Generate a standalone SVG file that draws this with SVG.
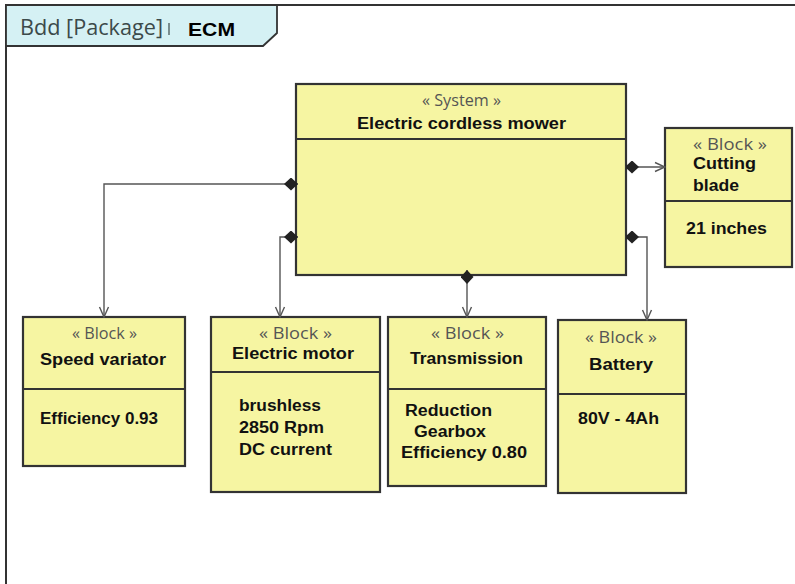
<svg xmlns="http://www.w3.org/2000/svg" width="795" height="584" viewBox="0 0 795 584">
<defs>
<style>
.box{fill:#f6f5a2;stroke:#333;stroke-width:2.2}
.div{stroke:#333;stroke-width:2}
.st{font-family:"Open Sans","Liberation Sans",sans-serif;font-size:16px;fill:#555}
.b{font-family:"Liberation Sans",Arial,sans-serif;font-weight:bold;font-size:16px;fill:#111}
.con{fill:none;stroke:#555;stroke-width:1.4}
</style>
<marker id="dia" viewBox="0 0 14 13" refX="0" refY="6.5" markerWidth="14" markerHeight="13" markerUnits="userSpaceOnUse" orient="auto">
<path d="M0,6.5 L7,0 L14,6.5 L7,13 Z" fill="#222"/>
</marker>
<marker id="arr" viewBox="0 0 12 12" refX="11" refY="6" markerWidth="12" markerHeight="12" markerUnits="userSpaceOnUse" orient="auto">
<path d="M1,1.5 L11,6 L1,10.5" fill="none" stroke="#555" stroke-width="1.4"/>
</marker>
</defs>
<rect width="795" height="584" fill="#fff"/>
<g id="frame">
<path d="M6,584 L6,5 L795,5" fill="none" stroke="#333" stroke-width="2"/>
<path d="M6,5 L277,5 L277,33 L263,46 L6,46 Z" fill="#d5f1f4" stroke="#333" stroke-width="1.8"/>
<text x="20" y="35" font-family="'Open Sans','Liberation Sans',sans-serif" font-size="21" fill="#3c4a4a" textLength="143" lengthAdjust="spacingAndGlyphs">Bdd [Package]</text>
<line x1="169" y1="23" x2="169" y2="35" stroke="#3c4a4a" stroke-width="1.2"/>
<text x="188" y="36" font-family="'Liberation Sans',Arial,sans-serif" font-weight="bold" font-size="18" fill="#000" textLength="47" lengthAdjust="spacingAndGlyphs">ECM</text>
</g>
<g id="system">
<rect class="box" x="296" y="84" width="330" height="191"/>
<line class="div" x1="296" y1="139" x2="626" y2="139"/>
<text class="st" x="422" y="106" textLength="79" lengthAdjust="spacingAndGlyphs">« System »</text>
<text class="b" x="357" y="129" textLength="209" lengthAdjust="spacingAndGlyphs">Electric cordless mower</text>
</g>
<g id="cutting-blade">
<rect class="box" x="665" y="128" width="127" height="139"/>
<line class="div" x1="665" y1="201" x2="792" y2="201"/>
<text class="st" x="693" y="150" textLength="74" lengthAdjust="spacingAndGlyphs">« Block »</text>
<text class="b" x="693" y="169" textLength="63" lengthAdjust="spacingAndGlyphs">Cutting</text>
<text class="b" x="693" y="191" textLength="46" lengthAdjust="spacingAndGlyphs">blade</text>
<text class="b" x="686" y="234" textLength="81" lengthAdjust="spacingAndGlyphs">21 inches</text>
</g>
<g id="speed-variator">
<rect class="box" x="23" y="317" width="162" height="149"/>
<line class="div" x1="23" y1="389" x2="185" y2="389"/>
<text class="st" x="72" y="339" textLength="65" lengthAdjust="spacingAndGlyphs">« Block »</text>
<text class="b" x="40" y="365" textLength="126" lengthAdjust="spacingAndGlyphs">Speed variator</text>
<text class="b" x="40" y="424" textLength="118" lengthAdjust="spacingAndGlyphs">Efficiency 0.93</text>
</g>
<g id="electric-motor">
<rect class="box" x="211" y="317" width="169" height="175"/>
<line class="div" x1="211" y1="372" x2="380" y2="372"/>
<text class="st" x="259" y="339" textLength="73" lengthAdjust="spacingAndGlyphs">« Block »</text>
<text class="b" x="232" y="359" textLength="122" lengthAdjust="spacingAndGlyphs">Electric motor</text>
<text class="b" x="239" y="411" textLength="82" lengthAdjust="spacingAndGlyphs">brushless</text>
<text class="b" x="239" y="433" textLength="85" lengthAdjust="spacingAndGlyphs">2850 Rpm</text>
<text class="b" x="239" y="455" textLength="93" lengthAdjust="spacingAndGlyphs">DC current</text>
</g>
<g id="transmission">
<rect class="box" x="388" y="317" width="158" height="169"/>
<line class="div" x1="388" y1="389" x2="546" y2="389"/>
<text class="st" x="431" y="339" textLength="73" lengthAdjust="spacingAndGlyphs">« Block »</text>
<text class="b" x="410" y="364" textLength="113" lengthAdjust="spacingAndGlyphs">Transmission</text>
<text class="b" x="405" y="416" textLength="87" lengthAdjust="spacingAndGlyphs">Reduction</text>
<text class="b" x="414" y="437" textLength="72" lengthAdjust="spacingAndGlyphs">Gearbox</text>
<text class="b" x="401" y="458" textLength="126" lengthAdjust="spacingAndGlyphs">Efficiency 0.80</text>
</g>
<g id="battery">
<rect class="box" x="558" y="320" width="128" height="173"/>
<line class="div" x1="558" y1="394" x2="686" y2="394"/>
<text class="st" x="585" y="343" textLength="72" lengthAdjust="spacingAndGlyphs">« Block »</text>
<text class="b" x="589" y="370" textLength="64" lengthAdjust="spacingAndGlyphs">Battery</text>
<text class="b" x="578" y="424" textLength="81" lengthAdjust="spacingAndGlyphs">80V - 4Ah</text>
</g>
<g id="connectors">
<path class="con" d="M625,167 L665,167" marker-start="url(#dia)" marker-end="url(#arr)"/>
<path class="con" d="M625,237 L647,237 L647,320" marker-start="url(#dia)" marker-end="url(#arr)"/>
<path class="con" d="M298,184 L104,184 L104,317" marker-start="url(#dia)" marker-end="url(#arr)"/>
<path class="con" d="M298,237 L280,237 L280,317" marker-start="url(#dia)" marker-end="url(#arr)"/>
<path class="con" d="M467,270 L467,317" marker-start="url(#dia)" marker-end="url(#arr)"/>
</g>
</svg>
